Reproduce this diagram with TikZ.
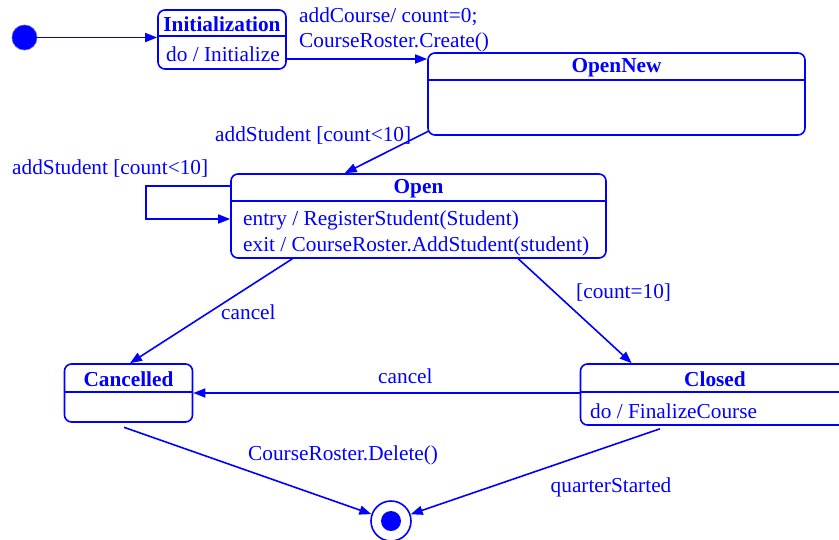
\documentclass[tikz,border=0pt]{standalone}
\usepackage{fontspec}
\setmainfont{Liberation Serif}
\usetikzlibrary{arrows.meta,calc}
\definecolor{umlblue}{RGB}{0,0,255}
\begin{document}
\begin{tikzpicture}[x=1pt,y=-1pt,
  font=\fontsize{21.3}{25}\selectfont,
  statebox/.style={draw=umlblue, line width=1.6pt, rounded corners=7pt, inner sep=0pt},
  divline/.style={draw=umlblue, line width=1.6pt},
  lbl/.style={anchor=base west, inner sep=0pt, text=umlblue},
  ttl/.style={anchor=base, inner sep=0pt, text=umlblue, font=\fontsize{21.3}{25}\selectfont\bfseries},
  arr/.style={draw=umlblue, line width=1.6pt, -{Triangle[length=12pt,width=9pt]}}]
\useasboundingbox (0,0) rectangle (839,539);

% initial and final states
\node[circle, fill=umlblue, draw=umlblue!70, line width=0.6pt, minimum size=25pt, inner sep=0pt] (start) at (24.5,37.5) {};
\node[circle, draw=umlblue, line width=1.6pt, minimum size=40pt, inner sep=0pt] (final) at (391,521) {};
\fill[umlblue] (final.center) circle (10pt);

% Initialization
\node[statebox, minimum width=128pt, minimum height=59pt] (init) at (222,39.5) {};
\draw[divline] (init.west |- 0,36) -- (init.east |- 0,36);
\node[ttl] (initT) at (222,31.5) {Initialization};
\node[lbl] (initD) at (166,61.5) {do / Initialize};

% OpenNew
\node[statebox, minimum width=377pt, minimum height=82pt] (opennew) at (616.5,94) {};
\draw[divline] (opennew.west |- 0,80) -- (opennew.east |- 0,80);
\node[ttl] (opennewT) at (616.5,72) {OpenNew};

% Open
\node[statebox, minimum width=375pt, minimum height=84pt] (open) at (418.5,216) {};
\draw[divline] (open.west |- 0,201) -- (open.east |- 0,201);
\node[ttl] (openT) at (418.5,193.5) {Open};
\node[lbl] (openE) at (243,225) {entry / RegisterStudent(Student)};
\node[lbl] (openX) at (243,251) {exit / CourseRoster.AddStudent(student)};

% Cancelled
\node[statebox, minimum width=128pt, minimum height=58pt] (cancelled) at (128.5,393) {};
\draw[divline] (cancelled.west |- 0,392) -- (cancelled.east |- 0,392);
\node[ttl] (cancelledT) at (128.5,386.5) {Cancelled};

% Closed
\node[statebox, minimum width=269pt, minimum height=61pt] (closed) at (715,394.5) {};
\draw[divline] (closed.west |- 0,392) -- (closed.east |- 0,392);
\node[ttl] (closedT) at (715,386.5) {Closed};
\node[lbl] (closedD) at (590,418.5) {do / FinalizeCourse};

% transitions
\draw[arr] (start) -- (start -| init.west);

\draw[arr] (init.east |- 0,59) -- (opennew.west |- 0,59);
\node[lbl] (l1a) at (299,22.5) {addCourse/ count=0;};
\node[lbl] (l1b) at (299,47) {CourseRoster.Create()};

\draw[arr] ([shift={(2,-5)}]opennew.south west) -- ($(open.north west)!0.304!(open.north east)$);
\node[lbl] (l2) at (215,141.5) {addStudent [count<10]};

\draw[arr] ([shift={(0,-30)}]open.west) -- ++(-84,0) |- ([shift={(0,3)}]open.west);
\node[lbl] (l3) at (12,174.5) {addStudent [count<10]};

\draw[arr] ($(open.south west)!0.165!(open.south east)$) -- ([shift={(1.5,0)}]cancelled.north);
\node[lbl] (l4) at (221,319) {cancel};

\draw[arr] ($(open.south west)!0.765!(open.south east)$) -- ([shift={(52,0)}]closed.north west);
\node[lbl] (l5) at (576,298.5) {[count=10]};

\draw[arr] (closed.west |- 0,393) -- (cancelled.east |- 0,393);
\node[lbl] (l6) at (378,383.5) {cancel};

\draw[arr] ([shift={(-4.5,4.5)}]cancelled.south) -- (final);
\node[lbl] (l7) at (248,460.5) {CourseRoster.Delete()};

\draw[arr] ([shift={(-55,3)}]closed.south) -- (final);
\node[lbl] (l8) at (550.5,492) {quarterStarted};
\end{tikzpicture}
\end{document}
